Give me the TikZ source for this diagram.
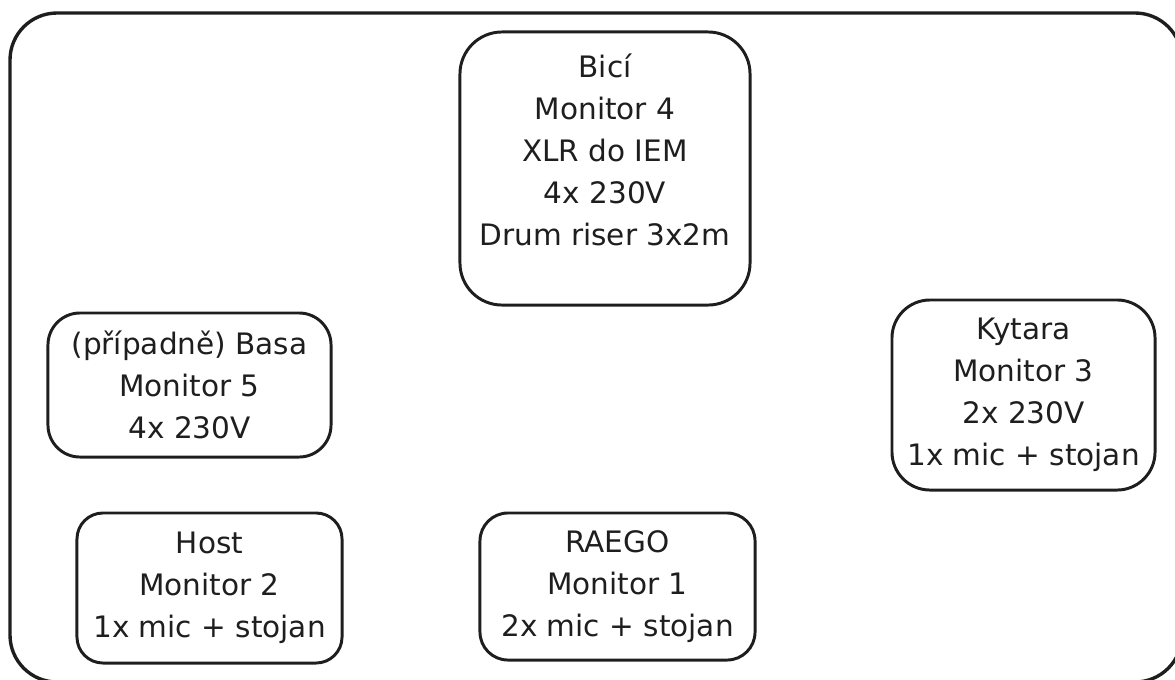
\documentclass[tikz,border=0pt]{standalone}
\usepackage{fontspec}
\setmainfont{DejaVu Sans}
\definecolor{ink}{HTML}{1E1E1E}
\tikzset{
    stagebox/.style={
        rectangle,
        draw=ink,
        line width=2.1pt,
        inner sep=0pt,
        align=center,
        text=ink,
        node font={\fontsize{21}{29.9}\selectfont}}
}

\begin{document}
\begin{tikzpicture}[x=0.025cm,y=-0.025cm]
    \useasboundingbox (0,0) rectangle (1175,679);
    \clip (0,0) rectangle (1175,679);

    % stage outline
    \draw[draw=ink, line width=2.4pt, rounded corners=1.175cm]
        (10,13) rectangle (1182,682);

    \node[
        stagebox,
        minimum width=7.25cm,
        minimum height=6.825cm,
        rounded corners=1.05cm,
        text depth=0.95cm]
        (drums) at (605,168.5) {Bicí\\Monitor 4\\XLR do IEM\\4x 230V\\Drum riser 3x2m};

    \node[
        stagebox,
        minimum width=7.075cm,
        minimum height=3.6cm,
        rounded corners=0.8cm]
        (bass) at (189.5,385) {(případně) Basa\\Monitor 5\\4x 230V};

    \node[
        stagebox,
        minimum width=6.575cm,
        minimum height=4.75cm,
        rounded corners=0.95cm]
        (guitar) at (1023.5,395) {Kytara\\Monitor 3\\2x 230V\\1x mic + stojan};

    \node[
        stagebox,
        minimum width=6.625cm,
        minimum height=3.75cm,
        rounded corners=0.65cm]
        (host) at (209.5,588) {Host\\Monitor 2\\1x mic + stojan};

    \node[
        stagebox,
        minimum width=6.875cm,
        minimum height=3.675cm,
        rounded corners=0.7cm]
        (raego) at (617.5,586.5) {RAEGO\\Monitor 1\\2x mic + stojan};
\end{tikzpicture}
\end{document}
